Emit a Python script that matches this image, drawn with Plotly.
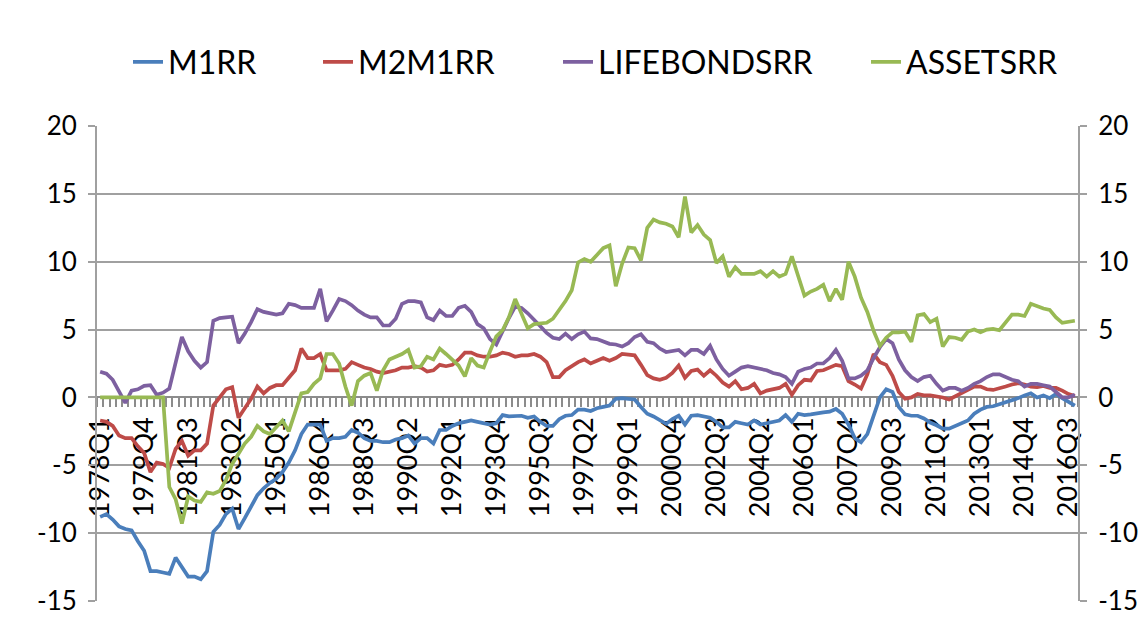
import plotly.graph_objects as go

# Quarter labels 1978Q1 .. 2016Q4
years = list(range(1978, 2017))
quarters = [f"{y}Q{q}" for y in years for q in range(1, 5)]
x_idx = list(range(len(quarters)))
tick_idx = list(range(0, len(quarters), 7))
tick_labels = [quarters[i] for i in tick_idx]

m1rr = [
    -8.8, -8.6, -9.0, -9.5, -9.7, -9.8, -10.6, -11.3, -12.8, -12.8,
    -12.9, -13.0, -11.8, -12.5, -13.2, -13.2, -13.4, -12.8, -9.9, -9.4,
    -8.6, -8.2, -9.7, -8.9, -8.1, -7.2, -6.7, -6.3, -6.0, -5.5,
    -4.8, -3.9, -2.7, -2.0, -2.0, -2.0, -3.2, -3.0, -3.0, -2.9,
    -2.4, -2.6, -3.0, -3.2, -3.2, -3.3, -3.3, -3.1, -3.0, -2.8,
    -3.4, -3.0, -3.0, -3.4, -2.4, -2.4, -2.1, -1.9, -1.8, -1.7,
    -1.8, -1.9, -2.0, -1.9, -1.3, -1.4, -1.4, -1.35, -1.5, -1.4,
    -1.8, -2.1, -2.1, -1.6, -1.35, -1.3, -0.9, -0.9, -1.0, -0.8,
    -0.7, -0.6, -0.1, -0.05, -0.1, -0.15, -0.7, -1.2, -1.4, -1.65,
    -1.95, -1.6, -1.35, -2.0, -1.35, -1.3, -1.4, -1.5, -1.8, -2.2,
    -2.2, -1.8, -1.9, -2.0, -1.7, -2.0, -1.9, -1.8, -1.7, -1.3,
    -1.8, -1.2, -1.3, -1.25, -1.15, -1.1, -1.05, -0.85, -1.2, -2.0,
    -3.0, -3.3, -2.7, -1.4, 0.0, 0.6, 0.4, -0.7, -1.25, -1.35,
    -1.35, -1.55, -1.85, -2.05, -2.3, -2.3, -2.1, -1.85, -1.7, -1.2,
    -0.9, -0.7, -0.65, -0.5, -0.35, -0.25, -0.05, 0.15, 0.3, 0.0,
    0.15, -0.05, 0.25, -0.05, -0.35, -0.6,
]

m2m1rr = [
    -1.7, -1.8, -2.1, -2.8, -3.0, -3.0, -3.6, -4.1, -5.5, -4.8,
    -4.9, -5.2, -3.8, -3.2, -4.3, -3.9, -3.9, -3.4, -0.6, -0.05,
    0.6, 0.75, -1.5, -0.8, -0.1, 0.8, 0.3, 0.7, 0.9, 0.9,
    1.4, 2.0, 3.6, 2.9, 2.9, 3.2, 2.0, 2.0, 2.0, 2.1,
    2.6, 2.4, 2.2, 2.1, 1.9, 1.8, 1.9, 2.0, 2.2, 2.2,
    2.3, 2.2, 1.9, 2.0, 2.4, 2.3, 2.4, 2.8, 3.3, 3.3,
    3.1, 3.0, 3.0, 3.1, 3.3, 3.2, 3.0, 3.1, 3.1, 3.2,
    3.0, 2.6, 1.5, 1.5, 2.0, 2.3, 2.6, 2.8, 2.5, 2.7,
    2.9, 2.7, 2.9, 3.2, 3.15, 3.1, 2.4, 1.65, 1.4, 1.3,
    1.45, 1.8, 2.35, 1.45, 1.95, 2.05, 1.6, 2.0, 1.6, 1.1,
    0.8, 1.2, 0.6, 0.7, 1.0, 0.3, 0.5, 0.6, 0.7, 1.0,
    0.2, 0.9, 1.3, 1.25, 1.95, 2.0, 2.2, 2.4, 2.3, 1.2,
    0.95, 0.65, 1.7, 3.2, 2.6, 2.4, 1.6, 0.4, -0.1, 0.0,
    0.25, 0.15, 0.15, 0.1, 0.0, -0.15, 0.1, 0.35, 0.55, 0.8,
    0.8, 0.6, 0.55, 0.65, 0.8, 0.95, 1.05, 0.95, 0.8, 0.75,
    0.85, 0.7, 0.7, 0.5, 0.25, 0.1,
]

lifebondsrr = [
    1.9, 1.75, 1.3, 0.45, -0.4, 0.5, 0.6, 0.85, 0.9, 0.2,
    0.35, 0.65, 2.5, 4.45, 3.4, 2.7, 2.2, 2.6, 5.65, 5.85,
    5.9, 5.95, 4.0, 4.7, 5.55, 6.5, 6.3, 6.2, 6.1, 6.2,
    6.9, 6.8, 6.6, 6.6, 6.6, 8.0, 5.6, 6.4, 7.25, 7.1,
    6.8, 6.4, 6.1, 5.9, 5.9, 5.3, 5.3, 5.8, 6.9, 7.1,
    7.1, 7.0, 5.9, 5.7, 6.4, 6.0, 6.0, 6.6, 6.75, 6.3,
    5.4, 5.1, 4.3, 3.9, 4.9, 5.85, 6.7, 6.6, 6.2, 5.75,
    5.25, 4.75, 4.4, 4.3, 4.7, 4.3, 4.65, 4.85, 4.35, 4.3,
    4.15, 3.95, 3.9, 3.75, 4.0, 4.45, 4.65, 4.1, 4.0, 3.6,
    3.35, 3.4, 3.5, 3.1, 3.5, 3.5, 3.2, 3.8, 2.8, 2.1,
    1.6, 1.9, 2.2, 2.3, 2.2, 2.1, 2.0, 1.8, 1.7, 1.5,
    1.0, 1.9, 2.1, 2.2, 2.5, 2.5, 2.9, 3.5, 2.7, 1.4,
    1.4, 1.6, 2.0, 2.9, 3.7, 4.3, 4.0, 2.8, 2.0, 1.5,
    1.2, 1.5, 1.6, 1.0, 0.5, 0.7, 0.7, 0.5, 0.7, 1.0,
    1.2, 1.5, 1.7, 1.7, 1.5, 1.3, 1.2, 0.8, 1.0, 1.0,
    0.9, 0.8, 0.4, 0.0, 0.0, 0.2,
]

assetsrr = [
    0.0, 0.0, 0.0, 0.0, 0.0, 0.0, 0.0, 0.0, 0.0, 0.0,
    0.0, -6.6, -7.5, -9.3, -7.3, -7.6, -7.7, -7.0, -7.1, -6.9,
    -6.1, -4.9, -4.1, -3.4, -2.9, -2.1, -2.5, -2.7, -2.2, -1.7,
    -2.5, -1.2, 0.3, 0.4, 1.0, 1.4, 3.2, 3.2, 2.5, 0.8,
    -0.6, 1.2, 1.6, 1.8, 0.5, 2.0, 2.8, 3.0, 3.2, 3.5,
    2.2, 2.3, 3.0, 2.8, 3.6, 3.2, 2.8, 2.35, 1.55, 2.9,
    2.35, 2.2, 3.4, 4.5, 4.95, 5.9, 7.25, 6.1, 5.1, 5.4,
    5.45, 5.5, 5.8, 6.4, 7.1, 7.9, 9.95, 10.2, 10.0, 10.5,
    11.0, 11.2, 8.2, 9.85, 11.05, 11.0, 10.1, 12.5, 13.1, 12.9,
    12.8, 12.6, 11.8, 14.8, 12.15, 12.7, 12.0, 11.6, 9.9, 10.4,
    8.9, 9.6, 9.1, 9.1, 9.1, 9.3, 8.9, 9.3, 8.9, 9.1,
    10.4, 8.95, 7.5, 7.8, 8.0, 8.3, 7.1, 8.0, 7.2, 10.0,
    8.9, 7.35, 6.3, 4.9, 3.8, 4.4, 4.8, 4.8, 4.85, 4.1,
    6.05, 6.15, 5.55, 5.8, 3.75, 4.45, 4.4, 4.25, 4.85, 5.0,
    4.8, 5.0, 5.05, 4.95, 5.55, 6.1, 6.1, 6.0, 6.9, 6.7,
    6.55, 6.45, 5.9, 5.5, 5.6, 5.65,
]

y_ticks = [-15, -10, -5, 0, 5, 10, 15, 20]
y_tick_text = [str(v) for v in y_ticks]

FONT = "Lato, 'Open Sans', sans-serif"
GRID = "#a0a0a0"

fig = go.Figure()
series = [
    ("M1RR", m1rr, "#4A7EBB", "y", "legend"),
    ("M2M1RR", m2m1rr, "#BE4B48", "y", "legend2"),
    ("LIFEBONDSRR", lifebondsrr, "#7D60A0", "y", "legend3"),
    ("ASSETSRR", assetsrr, "#98B954", "y2", "legend4"),
]
for name, vals, color, yax, lg in series:
    fig.add_trace(go.Scatter(
        x=x_idx, y=vals, name=name, mode="lines", yaxis=yax, legend=lg,
        line=dict(color=color, width=3.7),
    ))

L = 97
W = 1145 - 97 - 67
def leg(px_left):
    return dict(
        x=(px_left - L) / W, xanchor="left", y=1.1347, yanchor="middle",
        orientation="h", font=dict(size=32, family=FONT, color="black"),
        bgcolor="rgba(0,0,0,0)", borderwidth=0,
    )

fig.update_layout(
    width=1145, height=628,
    margin=dict(l=97, r=67, t=126, b=27, autoexpand=False),
    paper_bgcolor="white", plot_bgcolor="white",
    font=dict(family=FONT, size=26, color="black"),
    showlegend=True,
    legend=leg(128), legend2=leg(318), legend3=leg(558), legend4=leg(866),
    xaxis=dict(
        range=[-0.5, len(quarters) - 0.5],
        tickmode="array", tickvals=tick_idx, ticktext=tick_labels,
        tickangle=-90, ticks="", showgrid=False, zeroline=False,
        showline=True, linecolor="#8c8c8c", linewidth=2,
        anchor="free", position=15 / 35, layer="below traces",
        tickfont=dict(size=27), automargin=False,
        ticklabelstandoff=8,
        minor=dict(tickmode="linear", tick0=-0.5, dtick=1, ticks="outside",
                   ticklen=9, tickwidth=1.5, tickcolor="#8c8c8c", showgrid=False),
    ),
    yaxis=dict(
        range=[-15, 20], tickmode="array", tickvals=y_ticks, ticktext=y_tick_text,
        showgrid=True, gridcolor=GRID, gridwidth=2,
        zeroline=False, showline=True, linecolor=GRID, linewidth=2,
        ticks="outside", ticklen=7, tickwidth=2, tickcolor=GRID, automargin=False,
        tickfont=dict(size=26), ticklabelstandoff=6,
    ),
    yaxis2=dict(
        range=[-15, 20], tickmode="array", tickvals=y_ticks, ticktext=y_tick_text,
        overlaying="y", side="right",
        showgrid=False, zeroline=False, showline=True, linecolor=GRID, linewidth=2,
        ticks="outside", ticklen=7, tickwidth=2, tickcolor=GRID, automargin=False,
        tickfont=dict(size=26), ticklabelstandoff=6,
    ),
)

fig.write_html(
    "out.html",
    config={"displayModeBar": False},
    post_script="document.body.style.margin='0';document.body.style.padding='0';",
)
